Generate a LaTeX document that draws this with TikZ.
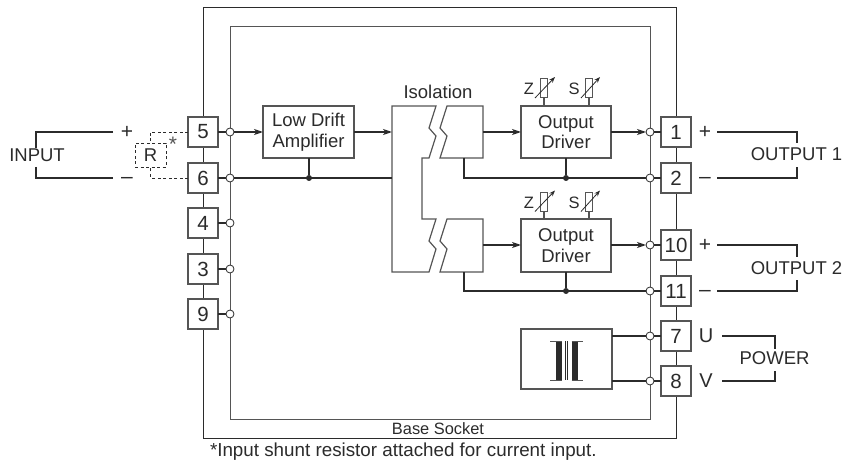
\documentclass[tikz,border=0pt]{standalone}
\usepackage{fontspec}
\setmainfont{Liberation Sans}
\usetikzlibrary{arrows.meta}
\definecolor{ink}{HTML}{2B2B2B}
\definecolor{boxc}{HTML}{555555}
\tikzset{
  every node/.style={inner sep=0pt,outer sep=0pt,text=ink,font=\fontsize{18.5}{20.5}\selectfont},
  pin/.style={draw=boxc,fill=white,line width=1.2pt,minimum width=30pt,minimum height=30pt,font=\fontsize{20.5}{22}\selectfont},
  block/.style={draw=boxc,fill=white,line width=1.2pt,align=center},
  hole/.style={circle,draw=ink,fill=white,line width=0.8pt,minimum size=8pt},
  joint/.style={circle,fill=ink,minimum size=6pt},
  wire/.style={draw=ink,line width=1.5pt},
  thin wire/.style={draw=ink,line width=1.1pt},
  frame/.style={draw=ink,line width=1pt},
  sig/.style={wire,-{Stealth[length=9pt,width=6pt,inset=2.5pt]}},
  dash wire/.style={draw=ink,line width=0.8pt,dash pattern=on 3pt off 2.5pt},
  pot/.style={draw=boxc,fill=white,line width=1pt,minimum width=7.5pt,minimum height=19pt},
  potarrow/.style={draw=ink,line width=0.8pt,-{Stealth[length=6pt,width=4.5pt]}},
  potlabel/.style={font=\fontsize{16.5}{18}\selectfont},
  bigsign/.style={font=\fontsize{21}{22}\selectfont},
}
\begin{document}
\begin{tikzpicture}[x=1pt,y=-1pt]
\useasboundingbox (0,0) rectangle (845,470);
% frames
\coordinate (oa) at (203,8); \coordinate (ob) at (676,438);
\coordinate (ia) at (230,27); \coordinate (ib) at (650,419);
\draw[frame] (oa) rectangle (ob);
\draw[frame,draw=boxc] (ia) rectangle (ib);
\node[fill=white,inner xsep=3pt,inner ysep=1pt] (base) at (438,428.5) {\fontsize{16.4}{18}\selectfont Base Socket};
% pins left
\foreach \n/\y in {5/132,6/178,4/223,3/269,9/314}{
  \node[pin] (p\n) at (203,\y) {\n};
  \node[hole] (c\n) at (230,\y) {};
  \draw[wire] (p\n) -- (c\n);
}
% pins right
\foreach \n/\y in {1/132,2/178,10/245,11/291,7/336,8/381}{
  \node[pin] (p\n) at (676,\y) {\n};
  \node[hole] (c\n) at (650,\y) {};
  \draw[thin wire] (p\n) -- (c\n);
}
% blocks
\node[block,minimum width=91pt,minimum height=52pt] (amp) at (308.5,132) {Low Drift\\Amplifier};
\node[block,minimum width=90pt,minimum height=52pt] (drv1) at (566,132) {Output\\Driver};
\node[block,minimum width=90pt,minimum height=53pt] (drv2) at (566,245.5) {Output\\Driver};
\node[block,minimum width=91pt,minimum height=60pt] (pwr) at (566.5,359) {};
% isolation
\draw[draw=boxc,line width=1.2pt,fill=white,line join=miter]
  (392,106) -- (436,106) -- (429,128) -- (436,136) -- (429,158) -- (422,158) -- (422,219) -- (436,219)
  -- (429,241) -- (436,249) -- (429,272) -- (392,272) -- cycle;
\draw[draw=boxc,line width=1.2pt,fill=white]
  (447,106) -- (483,106) -- (483,158) -- (440,158) -- (447,136) -- (440,128) -- cycle;
\draw[draw=boxc,line width=1.2pt,fill=white]
  (447,219) -- (483,219) -- (483,272) -- (440,272) -- (447,249) -- (440,241) -- cycle;
\node (iso) at (438,92) {Isolation};
\coordinate (isoL5) at (392,132);
\coordinate (isoL6) at (392,178);
\coordinate (isoR1) at (483,132);
\coordinate (isoR2) at (483,245);
\coordinate (isoB1) at (464,158);
\coordinate (isoB2) at (464,272);
% signal wires
\draw[sig] (c5) -- (amp);
\draw[sig] (amp) -- (isoL5);
\draw[sig] (isoR1) -- (drv1.west);
\draw[sig] (isoR2) -- (drv2.west |- isoR2);
\draw[sig] (drv1.east) -- (c1);
\draw[sig] (drv2.east |- c10) -- (c10);
\draw[wire] (c6) -- (isoL6);
\node[joint] (j0) at (309,178) {};
\draw[wire] (j0) -- (amp.south -| j0);
\draw[wire] (isoB1) |- (c2);
\node[joint] (j1) at (566,178) {};
\draw[wire] (j1) -- (drv1.south);
\draw[wire] (isoB2) |- (c11);
\node[joint] (j2) at (566,291) {};
\draw[wire] (j2) -- (drv2.south);
\draw[thin wire] (pwr.east |- c7) -- (c7);
\draw[thin wire] (pwr.east |- c8) -- (c8);
% pots
\foreach \k/\dy in {a/0,b/113.5}{
  \node[pot] (z\k) at (544,88.5+\dy) {};
  \node[pot] (s\k) at (589,88.5+\dy) {};
  \node[potlabel] (zl\k) at (529,89+\dy) {Z};
  \node[potlabel] (sl\k) at (574,89+\dy) {S};
  \coordinate (zs\k) at (535,98+\dy); \coordinate (ze\k) at (555,77+\dy);
  \coordinate (ss\k) at (581,98+\dy); \coordinate (se\k) at (600,77+\dy);
  \draw[potarrow] (zs\k) -- (ze\k);
  \draw[potarrow] (ss\k) -- (se\k);
}
\draw[thin wire,draw=boxc] (za) -- (drv1.north -| za);
\draw[thin wire,draw=boxc] (sa) -- (drv1.north -| sa);
\draw[thin wire,draw=boxc] (zb) -- (drv2.north -| zb);
\draw[thin wire,draw=boxc] (sb) -- (drv2.north -| sb);
% transformer
\fill[ink] (556,341) rectangle (562,380);
\fill[ink] (571.5,341) rectangle (577.5,380);
\draw[draw=boxc,line width=0.8pt] (550,341) -- (562,341) (550,380) -- (562,380)
  (571.5,341) -- (583,341) (571.5,380) -- (583,380);
\draw[ink,line width=0.9pt] (565.5,341) -- (565.5,380) (567.8,341) -- (567.8,380);
% input
\node (input) at (37,155) {INPUT};
\node[bigsign] (iplus) at (127,132) {+};
\node[bigsign] (iminus) at (127,180.5) {–};
\coordinate (i1) at (113,132); \coordinate (i2) at (36,132); \coordinate (i3) at (36,148);
\coordinate (i4) at (36,167); \coordinate (i5) at (36,178); \coordinate (i6) at (113,178);
\draw[wire] (i1) -- (i2) -- (i3);
\draw[wire] (i4) -- (i5) -- (i6);
\node[draw=ink,line width=0.8pt,dash pattern=on 3pt off 2.5pt,minimum width=31pt,minimum height=24pt] (R) at (150.5,155) {R};
\node[font=\fontsize{21}{22}\selectfont,text=boxc] (star) at (173,144) {*};
\draw[dash wire] (p5) -| (R);
\draw[dash wire] (p6) -| (R);
% outputs
\foreach \k/\a/\b/\dA/\dB in {1/132/178/11/11,2/245/291/12/11}{
  \node[bigsign] (op\k) at (705,\a) {+};
  \node[bigsign] (om\k) at (705,\b+2.5) {–};
  \coordinate (oA\k) at (717,\a); \coordinate (oB\k) at (797,\a); \coordinate (oC\k) at (797,{\a+\dA});
  \coordinate (oD\k) at (717,\b); \coordinate (oE\k) at (797,\b); \coordinate (oF\k) at (797,{\b-\dB});
  \draw[wire] (oA\k) -- (oB\k) -- (oC\k);
  \draw[wire] (oD\k) -- (oE\k) -- (oF\k);
}
\node (out1) at (796.5,154.5) {OUTPUT 1};
\node (out2) at (796.5,268) {OUTPUT 2};
% power
\node[font=\fontsize{20}{22}\selectfont] (lu) at (706,336) {U};
\node[font=\fontsize{20}{22}\selectfont] (lv) at (706,381) {V};
\node (lp) at (774.5,358.5) {POWER};
\coordinate (u1) at (722,336); \coordinate (u2) at (775,336); \coordinate (u3) at (775,349);
\coordinate (v1) at (722,381); \coordinate (v2) at (775,381); \coordinate (v3) at (775,371);
\draw[thin wire] (u1) -- (u2) -- (u3);
\draw[thin wire] (v1) -- (v2) -- (v3);
% note
\node[anchor=west] (note) at (210,452) {\fontsize{18.8}{20}\selectfont *Input shunt resistor attached for current input.};
\end{tikzpicture}
\end{document}
